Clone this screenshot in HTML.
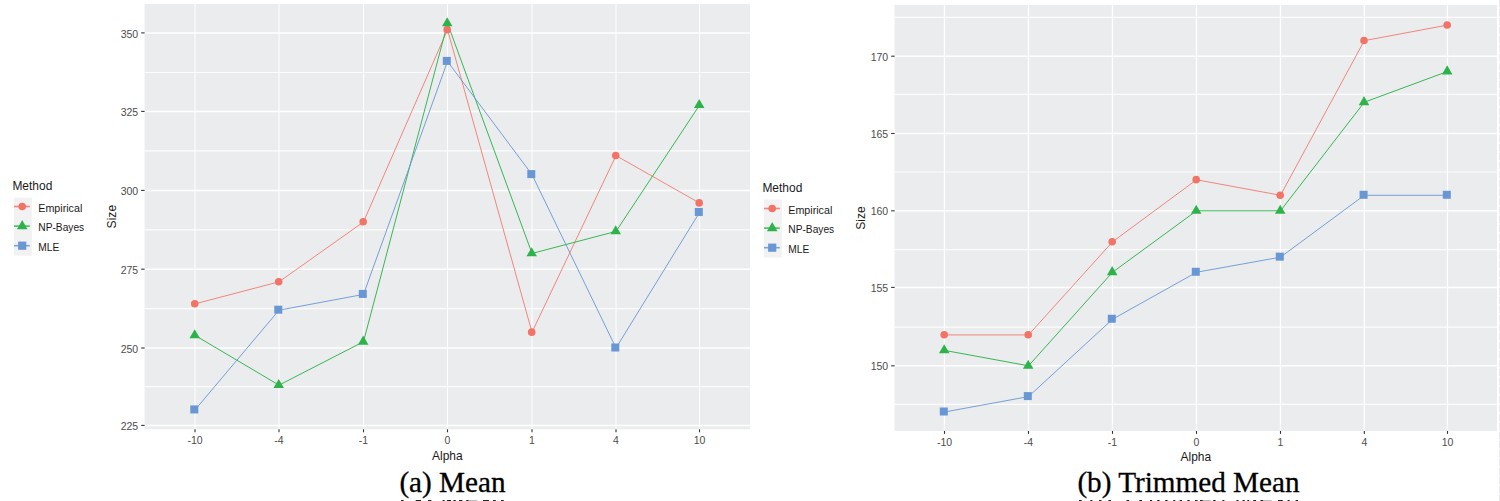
<!DOCTYPE html>
<html><head><meta charset="utf-8"><style>
html,body{margin:0;padding:0;background:#fff;width:1500px;height:501px;overflow:hidden}
svg{display:block}
.ax{font-family:"Liberation Sans",Arial,sans-serif;font-size:10.5px;fill:#4D4D4D}
.tt{font-family:"Liberation Sans",Arial,sans-serif;font-size:12.0px;fill:#1A1A1A}
.lg{font-family:"Liberation Sans",Arial,sans-serif;font-size:10.2px;fill:#1A1A1A}
.lt{font-family:"Liberation Sans",Arial,sans-serif;font-size:12.8px;fill:#1A1A1A}
.cap{font-family:"Liberation Serif","Times New Roman",serif;font-size:29.2px;fill:#000;stroke:#000;stroke-width:0.3px}
</style></head><body>
<svg width="1500" height="501" viewBox="0 0 1500 501">
<rect width="1500" height="501" fill="#fff"/>
<rect x="144.6" y="4" width="605.40" height="425.30" fill="#EBECEE"/>
<line x1="144.6" x2="750" y1="386.70" y2="386.70" stroke="#fff" stroke-width="1.2" stroke-opacity="0.85"/>
<line x1="144.6" x2="750" y1="308.60" y2="308.60" stroke="#fff" stroke-width="1.2" stroke-opacity="0.85"/>
<line x1="144.6" x2="750" y1="229.80" y2="229.80" stroke="#fff" stroke-width="1.2" stroke-opacity="0.85"/>
<line x1="144.6" x2="750" y1="150.90" y2="150.90" stroke="#fff" stroke-width="1.2" stroke-opacity="0.85"/>
<line x1="144.6" x2="750" y1="72.50" y2="72.50" stroke="#fff" stroke-width="1.2" stroke-opacity="0.85"/>
<line x1="144.6" x2="750" y1="425.40" y2="425.40" stroke="#fff" stroke-width="1.5"/>
<line x1="144.6" x2="750" y1="348.00" y2="348.00" stroke="#fff" stroke-width="1.5"/>
<line x1="144.6" x2="750" y1="269.20" y2="269.20" stroke="#fff" stroke-width="1.5"/>
<line x1="144.6" x2="750" y1="190.40" y2="190.40" stroke="#fff" stroke-width="1.5"/>
<line x1="144.6" x2="750" y1="111.40" y2="111.40" stroke="#fff" stroke-width="1.5"/>
<line x1="144.6" x2="750" y1="32.90" y2="32.90" stroke="#fff" stroke-width="1.5"/>
<line x1="195.00" x2="195.00" y1="4" y2="429.3" stroke="#fff" stroke-width="1.0"/>
<line x1="279.00" x2="279.00" y1="4" y2="429.3" stroke="#fff" stroke-width="1.0"/>
<line x1="363.50" x2="363.50" y1="4" y2="429.3" stroke="#fff" stroke-width="1.0"/>
<line x1="447.50" x2="447.50" y1="4" y2="429.3" stroke="#fff" stroke-width="1.0"/>
<line x1="532.00" x2="532.00" y1="4" y2="429.3" stroke="#fff" stroke-width="1.0"/>
<line x1="616.00" x2="616.00" y1="4" y2="429.3" stroke="#fff" stroke-width="1.0"/>
<line x1="699.50" x2="699.50" y1="4" y2="429.3" stroke="#fff" stroke-width="1.0"/>
<line x1="141.20" x2="144.6" y1="425.40" y2="425.40" stroke="#333333" stroke-width="1.1"/>
<line x1="141.20" x2="144.6" y1="348.00" y2="348.00" stroke="#333333" stroke-width="1.1"/>
<line x1="141.20" x2="144.6" y1="269.20" y2="269.20" stroke="#333333" stroke-width="1.1"/>
<line x1="141.20" x2="144.6" y1="190.40" y2="190.40" stroke="#333333" stroke-width="1.1"/>
<line x1="141.20" x2="144.6" y1="111.40" y2="111.40" stroke="#333333" stroke-width="1.1"/>
<line x1="141.20" x2="144.6" y1="32.90" y2="32.90" stroke="#333333" stroke-width="1.1"/>
<line x1="195.00" x2="195.00" y1="429.3" y2="432.30" stroke="#333333" stroke-width="1.1"/>
<line x1="279.00" x2="279.00" y1="429.3" y2="432.30" stroke="#333333" stroke-width="1.1"/>
<line x1="363.50" x2="363.50" y1="429.3" y2="432.30" stroke="#333333" stroke-width="1.1"/>
<line x1="447.50" x2="447.50" y1="429.3" y2="432.30" stroke="#333333" stroke-width="1.1"/>
<line x1="532.00" x2="532.00" y1="429.3" y2="432.30" stroke="#333333" stroke-width="1.1"/>
<line x1="616.00" x2="616.00" y1="429.3" y2="432.30" stroke="#333333" stroke-width="1.1"/>
<line x1="699.50" x2="699.50" y1="429.3" y2="432.30" stroke="#333333" stroke-width="1.1"/>
<text x="138.20" y="430.00" text-anchor="end" class="ax">225</text>
<text x="138.20" y="352.60" text-anchor="end" class="ax">250</text>
<text x="138.20" y="273.80" text-anchor="end" class="ax">275</text>
<text x="138.20" y="195.00" text-anchor="end" class="ax">300</text>
<text x="138.20" y="116.00" text-anchor="end" class="ax">325</text>
<text x="138.20" y="37.50" text-anchor="end" class="ax">350</text>
<text x="195.00" y="443.60" text-anchor="middle" class="ax">-10</text>
<text x="279.00" y="443.60" text-anchor="middle" class="ax">-4</text>
<text x="363.50" y="443.60" text-anchor="middle" class="ax">-1</text>
<text x="447.50" y="443.60" text-anchor="middle" class="ax">0</text>
<text x="532.00" y="443.60" text-anchor="middle" class="ax">1</text>
<text x="616.00" y="443.60" text-anchor="middle" class="ax">4</text>
<text x="699.50" y="443.60" text-anchor="middle" class="ax">10</text>
<text x="447.30" y="459.70" text-anchor="middle" class="tt" style="font-size:12.8px" textLength="30.6" lengthAdjust="spacingAndGlyphs">Alpha</text>
<text transform="translate(116.30,216.65) rotate(-90)" text-anchor="middle" class="tt" style="font-size:13px" textLength="23.5" lengthAdjust="spacingAndGlyphs">Size</text>
<polyline points="195.00,303.87 279.00,281.81 363.50,221.92 447.50,29.73 532.00,332.24 616.00,155.64 699.50,203.01" fill="none" stroke="#F17467" stroke-width="1.0" stroke-opacity="0.85"/>
<polyline points="195.00,335.39 279.00,385.15 363.50,341.70 447.50,23.40 532.00,253.44 616.00,231.38 699.50,105.18" fill="none" stroke="#2EB34B" stroke-width="1.0" stroke-opacity="0.95"/>
<polyline points="195.00,409.92 279.00,310.18 363.50,294.42 447.50,61.41 532.00,174.60 616.00,348.00 699.50,212.46" fill="none" stroke="#6897D4" stroke-width="1.0" stroke-opacity="0.9"/>
<circle cx="194.70" cy="303.77" r="3.8" fill="#F17467"/>
<circle cx="278.70" cy="281.71" r="3.8" fill="#F17467"/>
<circle cx="363.20" cy="221.82" r="3.8" fill="#F17467"/>
<circle cx="447.20" cy="29.63" r="3.8" fill="#F17467"/>
<circle cx="531.70" cy="332.14" r="3.8" fill="#F17467"/>
<circle cx="615.70" cy="155.54" r="3.8" fill="#F17467"/>
<circle cx="699.20" cy="202.91" r="3.8" fill="#F17467"/>
<polygon points="194.70,329.23 199.95,338.32 189.45,338.32" fill="#2EB34B"/>
<polygon points="278.70,378.99 283.95,388.08 273.45,388.08" fill="#2EB34B"/>
<polygon points="363.20,335.53 368.45,344.63 357.95,344.63" fill="#2EB34B"/>
<polygon points="447.20,17.23 452.45,26.33 441.95,26.33" fill="#2EB34B"/>
<polygon points="531.70,247.28 536.95,256.37 526.45,256.37" fill="#2EB34B"/>
<polygon points="615.70,225.21 620.95,234.31 610.45,234.31" fill="#2EB34B"/>
<polygon points="699.20,99.01 704.45,108.11 693.95,108.11" fill="#2EB34B"/>
<rect x="190.30" y="405.42" width="8.0" height="8.0" fill="#6897D4"/>
<rect x="274.30" y="305.68" width="8.0" height="8.0" fill="#6897D4"/>
<rect x="358.80" y="289.92" width="8.0" height="8.0" fill="#6897D4"/>
<rect x="442.80" y="56.91" width="8.0" height="8.0" fill="#6897D4"/>
<rect x="527.30" y="170.10" width="8.0" height="8.0" fill="#6897D4"/>
<rect x="611.30" y="343.50" width="8.0" height="8.0" fill="#6897D4"/>
<rect x="694.80" y="207.96" width="8.0" height="8.0" fill="#6897D4"/>
<text x="12.40" y="189.90" class="lt" textLength="39.9" lengthAdjust="spacingAndGlyphs">Method</text>
<rect x="13.80" y="197.60" width="18.0" height="58.0" fill="#F2F2F2"/>
<line x1="14.00" x2="29.80" y1="206.50" y2="206.50" stroke="#F17467" stroke-width="1.6" stroke-opacity="0.85"/>
<circle cx="22.20" cy="206.50" r="3.8" fill="#F17467"/>
<text x="38.30" y="211.50" class="lg" textLength="44.0" lengthAdjust="spacingAndGlyphs">Empirical</text>
<line x1="14.00" x2="29.80" y1="226.10" y2="226.10" stroke="#2EB34B" stroke-width="1.6" stroke-opacity="0.85"/>
<polygon points="22.20,220.04 27.45,229.13 16.95,229.13" fill="#2EB34B"/>
<text x="38.30" y="231.10" class="lg">NP-Bayes</text>
<line x1="14.00" x2="29.80" y1="245.70" y2="245.70" stroke="#6897D4" stroke-width="1.6" stroke-opacity="0.85"/>
<rect x="18.10" y="241.60" width="8.2" height="8.2" fill="#6897D4"/>
<text x="38.30" y="250.70" class="lg">MLE</text>
<rect x="894.6" y="5" width="602.40" height="425.90" fill="#EBECEE"/>
<line x1="894.6" x2="1497" y1="404.30" y2="404.30" stroke="#fff" stroke-width="1.2" stroke-opacity="0.85"/>
<line x1="894.6" x2="1497" y1="327.20" y2="327.20" stroke="#fff" stroke-width="1.2" stroke-opacity="0.85"/>
<line x1="894.6" x2="1497" y1="249.60" y2="249.60" stroke="#fff" stroke-width="1.2" stroke-opacity="0.85"/>
<line x1="894.6" x2="1497" y1="172.00" y2="172.00" stroke="#fff" stroke-width="1.2" stroke-opacity="0.85"/>
<line x1="894.6" x2="1497" y1="94.40" y2="94.40" stroke="#fff" stroke-width="1.2" stroke-opacity="0.85"/>
<line x1="894.6" x2="1497" y1="17.30" y2="17.30" stroke="#fff" stroke-width="1.2" stroke-opacity="0.85"/>
<line x1="894.6" x2="1497" y1="365.80" y2="365.80" stroke="#fff" stroke-width="1.5"/>
<line x1="894.6" x2="1497" y1="287.40" y2="287.40" stroke="#fff" stroke-width="1.5"/>
<line x1="894.6" x2="1497" y1="210.80" y2="210.80" stroke="#fff" stroke-width="1.5"/>
<line x1="894.6" x2="1497" y1="133.50" y2="133.50" stroke="#fff" stroke-width="1.5"/>
<line x1="894.6" x2="1497" y1="56.20" y2="56.20" stroke="#fff" stroke-width="1.5"/>
<line x1="944.50" x2="944.50" y1="5" y2="430.9" stroke="#fff" stroke-width="1.3"/>
<line x1="1028.50" x2="1028.50" y1="5" y2="430.9" stroke="#fff" stroke-width="1.3"/>
<line x1="1112.50" x2="1112.50" y1="5" y2="430.9" stroke="#fff" stroke-width="1.3"/>
<line x1="1196.50" x2="1196.50" y1="5" y2="430.9" stroke="#fff" stroke-width="1.3"/>
<line x1="1280.50" x2="1280.50" y1="5" y2="430.9" stroke="#fff" stroke-width="1.3"/>
<line x1="1364.30" x2="1364.30" y1="5" y2="430.9" stroke="#fff" stroke-width="1.3"/>
<line x1="1447.50" x2="1447.50" y1="5" y2="430.9" stroke="#fff" stroke-width="1.3"/>
<line x1="891.20" x2="894.6" y1="365.80" y2="365.80" stroke="#333333" stroke-width="1.1"/>
<line x1="891.20" x2="894.6" y1="287.40" y2="287.40" stroke="#333333" stroke-width="1.1"/>
<line x1="891.20" x2="894.6" y1="210.80" y2="210.80" stroke="#333333" stroke-width="1.1"/>
<line x1="891.20" x2="894.6" y1="133.50" y2="133.50" stroke="#333333" stroke-width="1.1"/>
<line x1="891.20" x2="894.6" y1="56.20" y2="56.20" stroke="#333333" stroke-width="1.1"/>
<line x1="944.50" x2="944.50" y1="430.9" y2="433.90" stroke="#333333" stroke-width="1.1"/>
<line x1="1028.50" x2="1028.50" y1="430.9" y2="433.90" stroke="#333333" stroke-width="1.1"/>
<line x1="1112.50" x2="1112.50" y1="430.9" y2="433.90" stroke="#333333" stroke-width="1.1"/>
<line x1="1196.50" x2="1196.50" y1="430.9" y2="433.90" stroke="#333333" stroke-width="1.1"/>
<line x1="1280.50" x2="1280.50" y1="430.9" y2="433.90" stroke="#333333" stroke-width="1.1"/>
<line x1="1364.30" x2="1364.30" y1="430.9" y2="433.90" stroke="#333333" stroke-width="1.1"/>
<line x1="1447.50" x2="1447.50" y1="430.9" y2="433.90" stroke="#333333" stroke-width="1.1"/>
<text x="888.20" y="370.40" text-anchor="end" class="ax">150</text>
<text x="888.20" y="292.00" text-anchor="end" class="ax">155</text>
<text x="888.20" y="215.40" text-anchor="end" class="ax">160</text>
<text x="888.20" y="138.10" text-anchor="end" class="ax">165</text>
<text x="888.20" y="60.80" text-anchor="end" class="ax">170</text>
<text x="944.50" y="446.20" text-anchor="middle" class="ax">-10</text>
<text x="1028.50" y="446.20" text-anchor="middle" class="ax">-4</text>
<text x="1112.50" y="446.20" text-anchor="middle" class="ax">-1</text>
<text x="1196.50" y="446.20" text-anchor="middle" class="ax">0</text>
<text x="1280.50" y="446.20" text-anchor="middle" class="ax">1</text>
<text x="1364.30" y="446.20" text-anchor="middle" class="ax">4</text>
<text x="1447.50" y="446.20" text-anchor="middle" class="ax">10</text>
<text x="1195.80" y="461.40" text-anchor="middle" class="tt" style="font-size:12.8px" textLength="30.6" lengthAdjust="spacingAndGlyphs">Alpha</text>
<text transform="translate(865.20,217.95) rotate(-90)" text-anchor="middle" class="tt" style="font-size:13px" textLength="23.5" lengthAdjust="spacingAndGlyphs">Size</text>
<polyline points="944.50,334.92 1028.50,334.92 1112.50,241.84 1196.50,179.76 1280.50,195.28 1364.30,40.64 1447.50,25.08" fill="none" stroke="#F17467" stroke-width="1.0" stroke-opacity="0.85"/>
<polyline points="944.50,350.36 1028.50,365.80 1112.50,272.28 1196.50,210.80 1280.50,210.80 1364.30,102.22 1447.50,71.48" fill="none" stroke="#2EB34B" stroke-width="1.0" stroke-opacity="0.95"/>
<polyline points="944.50,412.00 1028.50,396.60 1112.50,319.24 1196.50,272.28 1280.50,257.16 1364.30,195.28 1447.50,195.28" fill="none" stroke="#6897D4" stroke-width="1.0" stroke-opacity="0.9"/>
<circle cx="944.20" cy="334.82" r="3.8" fill="#F17467"/>
<circle cx="1028.20" cy="334.82" r="3.8" fill="#F17467"/>
<circle cx="1112.20" cy="241.74" r="3.8" fill="#F17467"/>
<circle cx="1196.20" cy="179.66" r="3.8" fill="#F17467"/>
<circle cx="1280.20" cy="195.18" r="3.8" fill="#F17467"/>
<circle cx="1364.00" cy="40.54" r="3.8" fill="#F17467"/>
<circle cx="1447.20" cy="24.98" r="3.8" fill="#F17467"/>
<polygon points="944.20,344.20 949.45,353.29 938.95,353.29" fill="#2EB34B"/>
<polygon points="1028.20,359.64 1033.45,368.73 1022.95,368.73" fill="#2EB34B"/>
<polygon points="1112.20,266.12 1117.45,275.21 1106.95,275.21" fill="#2EB34B"/>
<polygon points="1196.20,204.64 1201.45,213.73 1190.95,213.73" fill="#2EB34B"/>
<polygon points="1280.20,204.64 1285.45,213.73 1274.95,213.73" fill="#2EB34B"/>
<polygon points="1364.00,96.06 1369.25,105.15 1358.75,105.15" fill="#2EB34B"/>
<polygon points="1447.20,65.32 1452.45,74.41 1441.95,74.41" fill="#2EB34B"/>
<rect x="939.80" y="407.50" width="8.0" height="8.0" fill="#6897D4"/>
<rect x="1023.80" y="392.10" width="8.0" height="8.0" fill="#6897D4"/>
<rect x="1107.80" y="314.74" width="8.0" height="8.0" fill="#6897D4"/>
<rect x="1191.80" y="267.78" width="8.0" height="8.0" fill="#6897D4"/>
<rect x="1275.80" y="252.66" width="8.0" height="8.0" fill="#6897D4"/>
<rect x="1359.60" y="190.78" width="8.0" height="8.0" fill="#6897D4"/>
<rect x="1442.80" y="190.78" width="8.0" height="8.0" fill="#6897D4"/>
<text x="762.40" y="191.90" class="lt" textLength="39.9" lengthAdjust="spacingAndGlyphs">Method</text>
<rect x="763.80" y="199.60" width="18.0" height="58.0" fill="#F2F2F2"/>
<line x1="764.00" x2="779.80" y1="208.50" y2="208.50" stroke="#F17467" stroke-width="1.6" stroke-opacity="0.85"/>
<circle cx="772.20" cy="208.50" r="3.8" fill="#F17467"/>
<text x="788.30" y="213.50" class="lg" textLength="44.0" lengthAdjust="spacingAndGlyphs">Empirical</text>
<line x1="764.00" x2="779.80" y1="228.10" y2="228.10" stroke="#2EB34B" stroke-width="1.6" stroke-opacity="0.85"/>
<polygon points="772.20,222.04 777.45,231.13 766.95,231.13" fill="#2EB34B"/>
<text x="788.30" y="233.10" class="lg">NP-Bayes</text>
<line x1="764.00" x2="779.80" y1="247.70" y2="247.70" stroke="#6897D4" stroke-width="1.6" stroke-opacity="0.85"/>
<rect x="768.10" y="243.60" width="8.2" height="8.2" fill="#6897D4"/>
<text x="788.30" y="252.70" class="lg">MLE</text>
<rect x="401" y="500" width="2.6" height="1" fill="#000" fill-opacity="0.85"/>
<rect x="415.8" y="500" width="5.2" height="1" fill="#000" fill-opacity="0.85"/>
<rect x="428" y="500" width="3.4" height="1" fill="#000" fill-opacity="0.85"/>
<rect x="442.6" y="500" width="2.0" height="1" fill="#000" fill-opacity="0.85"/>
<rect x="447" y="500" width="4.0" height="1" fill="#000" fill-opacity="0.85"/>
<rect x="453.4" y="500" width="2.4" height="1" fill="#000" fill-opacity="0.85"/>
<rect x="459" y="500" width="3.4" height="1" fill="#000" fill-opacity="0.85"/>
<rect x="466.2" y="500" width="2.4" height="1" fill="#000" fill-opacity="0.85"/>
<rect x="468.6" y="500" width="8.8" height="1" fill="#000" fill-opacity="0.26"/>
<rect x="483" y="500" width="6.0" height="1" fill="#000" fill-opacity="0.85"/>
<rect x="493" y="500" width="2.8" height="1" fill="#000" fill-opacity="0.85"/>
<rect x="501" y="500" width="2.8" height="1" fill="#000" fill-opacity="0.85"/>
<rect x="1079" y="500" width="2.7" height="1" fill="#000" fill-opacity="0.85"/>
<rect x="1090.3" y="500" width="2.1" height="1" fill="#000" fill-opacity="0.85"/>
<rect x="1099" y="500" width="2.5" height="1" fill="#000" fill-opacity="0.85"/>
<rect x="1108.4" y="500" width="2.6" height="1" fill="#000" fill-opacity="0.85"/>
<rect x="1126.5" y="500" width="2.7" height="1" fill="#000" fill-opacity="0.85"/>
<rect x="1139.3" y="500" width="2.7" height="1" fill="#000" fill-opacity="0.85"/>
<rect x="1150" y="500" width="2.1" height="1" fill="#000" fill-opacity="0.85"/>
<rect x="1157.2" y="500" width="2.4" height="1" fill="#000" fill-opacity="0.85"/>
<rect x="1165.2" y="500" width="2.4" height="1" fill="#000" fill-opacity="0.85"/>
<rect x="1173.2" y="500" width="2.1" height="1" fill="#000" fill-opacity="0.85"/>
<rect x="1179.6" y="500" width="2.4" height="1" fill="#000" fill-opacity="0.85"/>
<rect x="1187.3" y="500" width="2.4" height="1" fill="#000" fill-opacity="0.85"/>
<rect x="1195" y="500" width="2.5" height="1" fill="#000" fill-opacity="0.85"/>
<rect x="1200" y="500" width="2.8" height="1" fill="#000" fill-opacity="0.85"/>
<rect x="1202.8" y="500" width="8.0" height="1" fill="#000" fill-opacity="0.26"/>
<rect x="1213.2" y="500" width="2.4" height="1" fill="#000" fill-opacity="0.85"/>
<rect x="1222.3" y="500" width="2.1" height="1" fill="#000" fill-opacity="0.85"/>
<rect x="1236.4" y="500" width="2.1" height="1" fill="#000" fill-opacity="0.85"/>
<rect x="1242.5" y="500" width="2.2" height="1" fill="#000" fill-opacity="0.85"/>
<rect x="1247.3" y="500" width="1.9" height="1" fill="#000" fill-opacity="0.85"/>
<rect x="1253.2" y="500" width="2.9" height="1" fill="#000" fill-opacity="0.85"/>
<rect x="1260.4" y="500" width="2.6" height="1" fill="#000" fill-opacity="0.85"/>
<rect x="1263" y="500" width="8.6" height="1" fill="#000" fill-opacity="0.26"/>
<rect x="1278" y="500" width="4.8" height="1" fill="#000" fill-opacity="0.85"/>
<rect x="1287.6" y="500" width="2.1" height="1" fill="#000" fill-opacity="0.85"/>
<rect x="1295.6" y="500" width="2.4" height="1" fill="#000" fill-opacity="0.85"/>
<line x1="1499.5" x2="1499.5" y1="0" y2="501" stroke="#E9EAEC" stroke-width="1" stroke-dasharray="7 2"/>
<text x="399.4" y="492" class="cap">(a) Mean</text>
<text x="1077.4" y="492" class="cap">(b) Trimmed Mean</text>
</svg>
</body></html>
